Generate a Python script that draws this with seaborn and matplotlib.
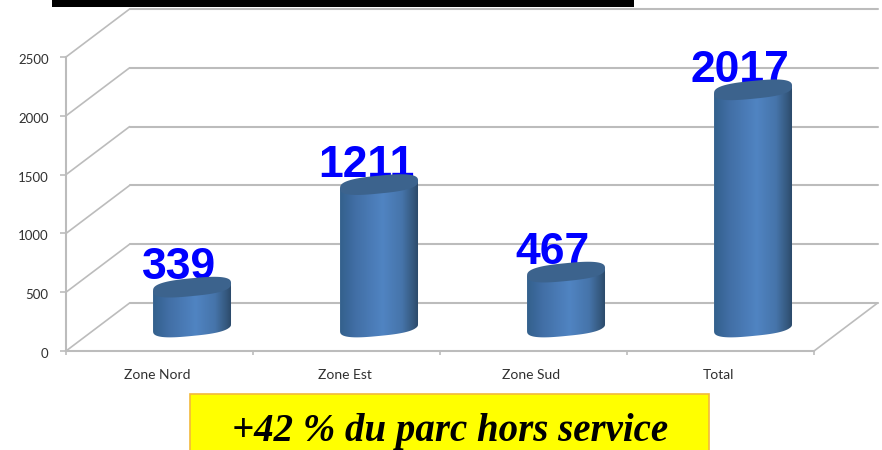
import numpy as np
import pandas as pd
import seaborn as sns
import matplotlib.pyplot as plt
from matplotlib.patches import Rectangle, PathPatch
from matplotlib.path import Path
from matplotlib.colors import LinearSegmentedColormap
from matplotlib.transforms import ScaledTranslation

# values
zones = ['Zone Nord', 'Zone Est', 'Zone Sud', 'Total']
counts = [339, 1211, 467, 2017]
y_ticks = [0, 500, 1000, 1500, 2000, 2500]
note = '+42 % du parc hors service'

W, H = 882, 450
GRID = '#bcbcbc'
TXT = '#303030'

# 3D look: depth of the floor in data units
depth_x = 0.34
depth_y = 408
# cylinder ellipse, in data units
ell_b = 76
ell_tilt = 32
ell_pow = 0.72

sns.set_style('white')
plt.rcParams['font.family'] = ['Lato', 'DejaVu Sans']

df = pd.DataFrame({'zone': zones, 'count': counts})

fig = plt.figure(figsize=(W / 100, H / 100), dpi=100)
ax = fig.add_axes([66 / W, 1 - 351 / H, 748 / W, 294 / H])
sns.barplot(data=df, x='zone', y='count', ax=ax, width=0.417, color='#3f6b99', saturation=1)

cyl_cmap = LinearSegmentedColormap.from_list('cyl', [
    (0, '#33608c'), (0.2, '#426fa6'), (0.55, '#5084c2'), (0.8, '#4674aa'), (0.94, '#35597f'), (1, '#2c4b6c')])
grad = np.linspace(0, 1, 128).reshape(1, -1)


def ellipse_pts(cx, cy, a, t):
    # slightly squared ellipse, sheared so the right side sits higher
    c = np.sign(np.cos(t)) * np.abs(np.cos(t)) ** ell_pow
    s = np.sign(np.sin(t)) * np.abs(np.sin(t)) ** ell_pow
    return np.column_stack([cx + a * c, cy + ell_tilt * c + ell_b * s])


for i, patch in enumerate(ax.patches):
    a = patch.get_width() / 2
    cx = patch.get_x() + a + depth_x / 2 + 0.004
    base = depth_y / 2
    top = base + patch.get_height()
    # body: top edge straight across, then lower half of the base ellipse
    low = ellipse_pts(cx, base, a, np.linspace(np.pi, 2 * np.pi, 60))
    verts = np.vstack([[[cx - a, top - ell_tilt]], low, [[cx + a, top + ell_tilt]], [[cx - a, top - ell_tilt]]])
    body = Path(verts)
    patch.set_x(cx - a)
    patch.set_y(base)
    patch.set_zorder(3)
    patch.set_clip_path(body, ax.transData)
    im = ax.imshow(grad, cmap=cyl_cmap, aspect='auto', zorder=3.1,
                   extent=[cx - a, cx + a, base - 150, top + 100])
    im.set_clip_path(body, ax.transData)
    cap = ellipse_pts(cx, top, a, np.linspace(0, 2 * np.pi, 120))
    ax.add_patch(PathPatch(Path(cap), fc='#3c638d', ec='none', zorder=3.3, clip_on=False))
    ax.text(cx - 0.07, top + 66, str(counts[i]), color='#0000ff', ha='center', va='baseline',
            fontsize=32, fontweight='bold', family='Liberation Sans', zorder=3.2)

ax.set_xlim(-0.5, 3.5)
ax.set_ylim(0, 2500)

# back wall and left wall grid
for v in y_ticks:
    ax.plot([-0.5 + depth_x, 3.5 + depth_x], [v + depth_y, v + depth_y], color=GRID, lw=1.5, zorder=1, clip_on=False)
    ax.plot([-0.5, -0.5 + depth_x], [v, v + depth_y], color=GRID, lw=1.2, zorder=1, clip_on=False)
# right edge of the floor
ax.plot([3.5, 3.5 + depth_x], [0, depth_y], color=GRID, lw=1.2, zorder=1, clip_on=False)

sns.despine(ax=ax, top=True, right=True)
for side in ['left', 'bottom']:
    ax.spines[side].set_color(GRID)
    ax.spines[side].set_linewidth(1.5)

ax.set_xlabel('')
ax.set_ylabel('')
ax.set_yticks(y_ticks)
ax.set_xticks(range(len(zones)))
ax.set_xticklabels(zones)
ax.set_xticks(np.arange(-0.5, 4), minor=True)
ax.tick_params(axis='x', which='major', length=0, pad=13, labelsize=10, labelcolor=TXT)
ax.tick_params(axis='x', which='minor', length=3, width=1.2, color=GRID, bottom=True)
ax.tick_params(axis='y', length=4, width=1.2, color=GRID, pad=8.5, labelsize=9.5, labelcolor=TXT, left=True)
# labels sit a little off the tick positions in the original
for lab in ax.get_xticklabels():
    lab.set_transform(lab.get_transform() + ScaledTranslation(-2 / 100, 0, fig.dpi_scale_trans))
for lab in ax.get_yticklabels():
    lab.set_transform(lab.get_transform() + ScaledTranslation(0, -2 / 100, fig.dpi_scale_trans))

# black band cut off at the top of the slide
fig.add_artist(Rectangle((52 / W, 1 - 7 / H), 582 / W, 7 / H, transform=fig.transFigure, fc='black', ec='none', zorder=5))

# yellow note box, runs off the bottom
fig.add_artist(Rectangle((190 / W, -2 / H), 519 / W, 58 / H, transform=fig.transFigure, fc='#ffff00', ec='#f2b93b', lw=1.2, zorder=5))
fig.text(450 / W, 1 - 441 / H, note, ha='center', va='baseline', fontsize=28, fontweight='bold', style='italic',
         family='Liberation Serif', color='black', zorder=6)

fig.savefig('out.png', dpi=100)
